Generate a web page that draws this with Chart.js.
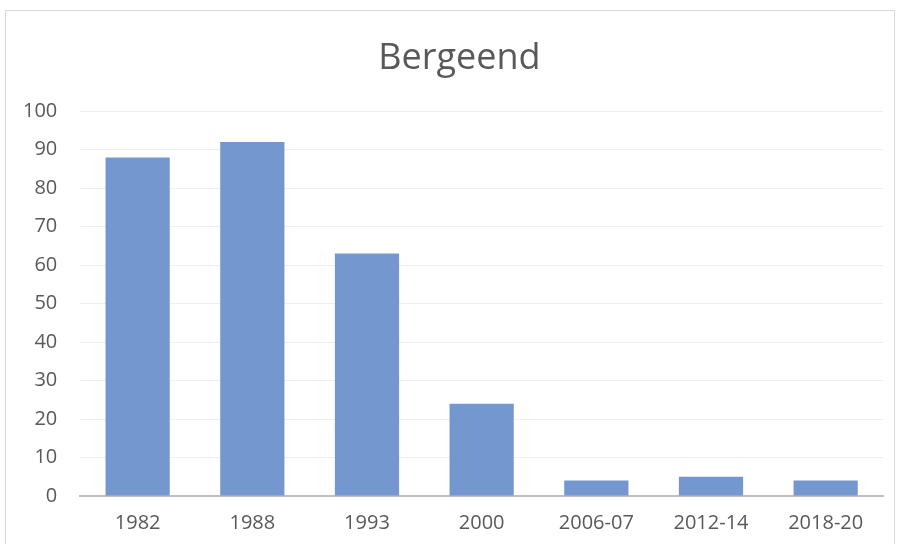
<!DOCTYPE html>
<html>
<head>
<meta charset="utf-8">
<script src="https://cdn.jsdelivr.net/npm/chart.js@4"></script>
<style>
html,body{margin:0;padding:0;background:#fff;overflow:hidden;width:899px;height:544px;}
#frame{position:absolute;left:5px;top:10px;width:890px;height:534px;border:1px solid #d9d9d9;border-bottom:none;box-sizing:border-box;}
#wrap{position:absolute;left:0;top:0;width:899px;height:550px;}
</style>
</head>
<body>
<div id="frame"></div>
<div id="wrap"><canvas id="c" width="899" height="550"></canvas></div>
<script>
const categories = ["1982","1988","1993","2000","2006-07","2012-14","2018-20"];
const values = [88, 92, 63, 24, 4, 5, 4];
const chartTitle = "Bergeend";
const FONT = '"Open Sans", sans-serif';

const shiftTitle = {
  id: 'shiftTitle',
  afterLayout(chart) {
    const t = chart.titleBlock;
    if (t) { t.left += 18; t.right += 18; }
  }
};

new Chart(document.getElementById('c'), {
  type: 'bar',
  data: {
    labels: categories,
    datasets: [{
      data: values,
      backgroundColor: '#7597d0',
      barPercentage: 0.56,
      categoryPercentage: 1.0
    }]
  },
  plugins: [shiftTitle],
  options: {
    responsive: false,
    animation: false,
    layout: { padding: { left: 0, right: 16, top: 0, bottom: 0 } },
    plugins: {
      legend: { display: false },
      tooltip: { enabled: false },
      title: {
        display: true,
        text: chartTitle,
        color: '#595959',
        font: { family: FONT, size: 36, weight: 'normal' },
        padding: { top: 37, bottom: 31 }
      }
    },
    scales: {
      x: {
        grid: { display: false, drawTicks: false },
        border: { display: true, color: '#bfbfbf', width: 2 },
        ticks: { color: '#595959', font: { family: FONT, size: 20 }, padding: 15 }
      },
      y: {
        min: 0, max: 100,
        ticks: { stepSize: 10, color: '#595959', font: { family: FONT, size: 20 }, padding: 23 },
        grid: { color: '#efefef', lineWidth: 1, drawTicks: false },
        border: { display: false }
      }
    }
  }
});
</script>
</body>
</html>
